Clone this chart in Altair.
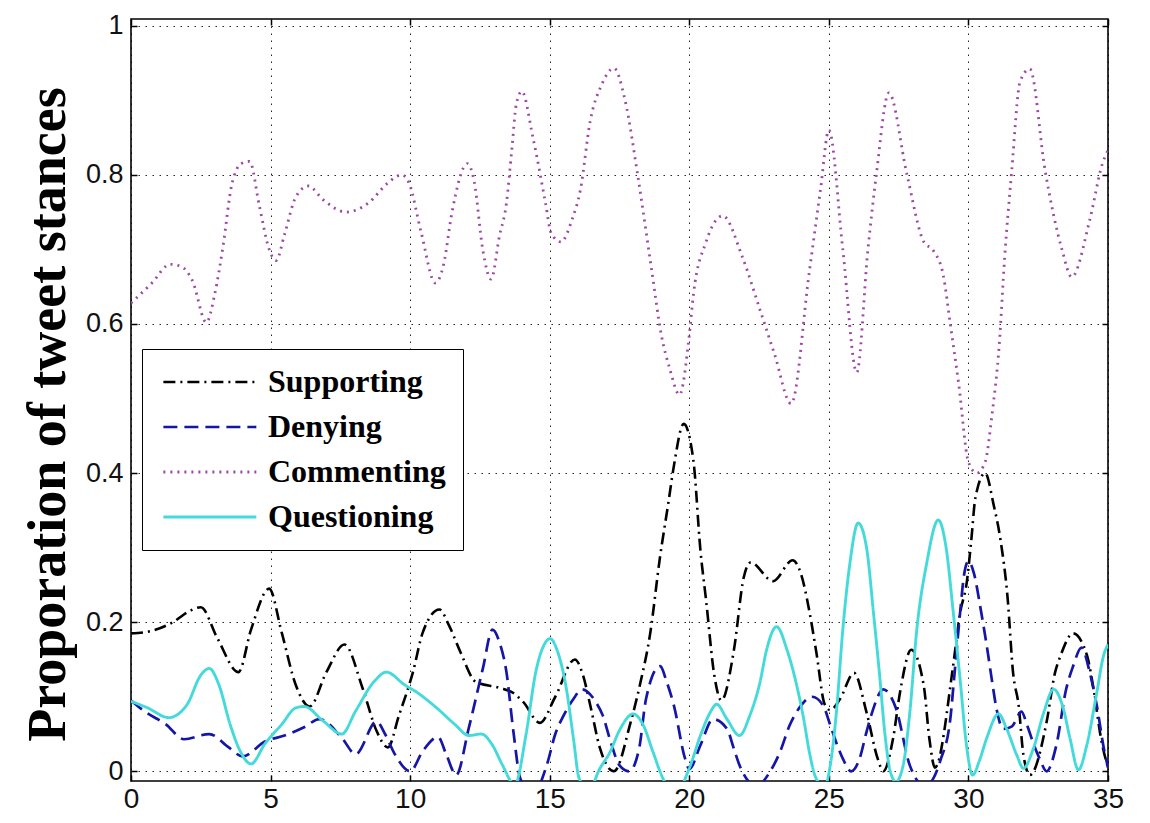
import altair as alt
import pandas as pd

# ---- data ----
stances = ["Supporting", "Denying", "Commenting", "Questioning"]

supporting_x = [0, 0.7, 1.5, 2.1, 2.5, 3.1, 3.85, 4.3, 4.95, 5.4, 5.9, 6.4, 7.0, 7.65, 8.3, 8.8, 9.2,
                9.6, 10.1, 10.45, 11.05, 11.4, 11.8, 12.35, 13.2, 13.7, 14.05, 14.65, 15.2, 15.9, 16.2,
                16.45, 16.8, 17.3, 17.9, 18.25, 18.6, 18.95, 19.25, 19.45, 19.8, 20.15, 20.4, 20.6,
                20.9, 21.15, 21.6, 21.95, 22.2, 23.0, 23.7, 24.0, 24.3, 24.55, 24.85, 25.05, 25.4,
                25.9, 26.35, 26.75, 26.95, 27.3, 27.55, 27.95, 28.4, 28.6, 28.8, 29.45, 29.7, 29.95,
                30.1, 30.25, 30.6, 30.9, 31.15, 31.4, 31.6, 31.8, 31.97, 32.2, 32.8, 33.1, 33.3,
                33.75, 34.25, 34.5, 34.75, 35]
supporting_y = [0.185, 0.188, 0.2, 0.215, 0.22, 0.178, 0.133, 0.19, 0.245, 0.186, 0.116, 0.087, 0.133,
                0.17, 0.111, 0.054, 0.032, 0.075, 0.133, 0.186, 0.217, 0.195, 0.16, 0.12, 0.112, 0.105,
                0.093, 0.065, 0.10, 0.15, 0.128, 0.089, 0.031, 0.0, 0.066, 0.119, 0.185, 0.287, 0.36,
                0.41, 0.466, 0.416, 0.296, 0.23, 0.128, 0.095, 0.163, 0.26, 0.28, 0.255, 0.283, 0.265,
                0.215, 0.16, 0.09, 0.082, 0.097, 0.132, 0.079, 0.017, 0.0, 0.044, 0.106, 0.163, 0.115,
                0.044, 0.005, 0.141, 0.212, 0.256, 0.309, 0.367, 0.40, 0.358, 0.31, 0.234, 0.132,
                0.088, 0.022, -0.005, 0.066, 0.132, 0.155, 0.185, 0.155, 0.106, 0.044, 0.005]

denying_x = [0, 0.5, 1.25, 1.9, 2.8, 3.5, 4.0, 4.8, 5.5, 6.2, 6.75, 7.55, 8.05, 8.8, 9.1, 9.45, 10.0,
             10.45, 11.0, 11.3, 11.65, 12.1, 12.6, 12.95, 13.2, 13.45, 13.7, 13.95, 14.4, 14.9, 15.2,
             15.5, 15.85, 16.15, 16.65, 16.9, 17.15, 17.5, 17.85, 18.2, 18.45, 18.95, 19.2, 19.45,
             19.85, 20.0, 20.4, 20.85, 21.35, 21.6, 21.8, 22.05, 22.4, 22.9, 23.25, 23.6, 24.0, 24.4,
             24.8, 25.05, 25.3, 25.5, 25.8, 26.1, 26.35, 26.55, 26.95, 27.4, 27.9, 28.45, 29.0,
             29.35, 29.5, 29.7, 29.85, 30.0, 30.2, 30.45, 30.65, 30.85, 31.0, 31.25, 31.55, 31.9,
             32.1, 32.35, 32.55, 32.8, 33.15, 33.5, 33.75, 34.05, 34.35, 34.6, 34.85, 35]
denying_y = [0.095, 0.08, 0.063, 0.043, 0.05, 0.032, 0.02, 0.04, 0.048, 0.059, 0.07, 0.045, 0.023,
             0.067, 0.05, 0.023, 0.0, 0.027, 0.046, 0.022, -0.005, 0.058, 0.137, 0.19, 0.173, 0.133,
             0.053, -0.01, -0.03, 0.009, 0.05, 0.075, 0.097, 0.11, 0.093, 0.075, 0.044, 0.008, 0.0,
             0.03, 0.097, 0.141, 0.119, 0.088, 0.017, 0.003, 0.035, 0.07, 0.057, 0.03, 0.008, -0.01,
             -0.02, 0.0, 0.026, 0.062, 0.088, 0.10, 0.088, 0.062, 0.035, 0.017, 0.0, 0.017, 0.053,
             0.079, 0.11, 0.085, 0.008, -0.02, 0.015, 0.07, 0.13, 0.212, 0.265, 0.282, 0.265, 0.215,
             0.17, 0.12, 0.085, 0.057, 0.06, 0.08, 0.062, 0.035, 0.017, 0.0, 0.035, 0.11, 0.141,
             0.166, 0.132, 0.088, 0.031, 0.005]

commenting_x = [0, 0.75, 1.4, 1.8, 2.2, 2.7, 3.0, 3.3, 3.6, 3.95, 4.25, 4.6, 4.95, 5.2, 5.5, 5.9, 6.35,
                6.9, 7.7, 8.5, 9.2, 9.7, 9.95, 10.4, 10.9, 11.2, 11.5, 12.05, 12.3, 12.6, 12.9, 13.2,
                13.45, 13.65, 13.8, 14.0, 14.4, 14.85, 15.05, 15.4, 15.8, 16.1, 16.45, 16.85, 17.3,
                17.7, 18.15, 18.65, 19.0, 19.3, 19.65, 20.0, 20.15, 20.6, 21.2, 21.9, 22.55, 23.05,
                23.65, 24.3, 24.7, 25.0, 25.5, 26.0, 26.4, 26.7, 27.15, 27.8, 28.4, 28.75, 29.1,
                29.35, 29.65, 30.0, 30.3, 30.6, 30.85, 31.1, 31.3, 31.55, 31.85, 32.2, 32.75, 33.35,
                33.7, 34.35, 34.8, 35]
commenting_y = [0.628, 0.655, 0.68, 0.677, 0.658, 0.602, 0.64, 0.705, 0.785, 0.815, 0.818, 0.758, 0.70,
                0.685, 0.72, 0.77, 0.785, 0.766, 0.750, 0.762, 0.789, 0.80, 0.79, 0.722, 0.655, 0.68,
                0.75, 0.815, 0.79, 0.70, 0.66, 0.718, 0.762, 0.837, 0.894, 0.912, 0.85, 0.762, 0.722,
                0.71, 0.74, 0.78, 0.872, 0.92, 0.943, 0.90, 0.80, 0.673, 0.585, 0.54, 0.505, 0.585,
                0.64, 0.71, 0.745, 0.69, 0.617, 0.56, 0.493, 0.67, 0.78, 0.86, 0.70, 0.535, 0.70, 0.80,
                0.91, 0.80, 0.71, 0.698, 0.665, 0.60, 0.52, 0.415, 0.40, 0.415, 0.48, 0.57, 0.69,
                0.805, 0.925, 0.942, 0.805, 0.70, 0.663, 0.74, 0.815, 0.833]

questioning_x = [0, 0.6, 1.35, 2.0, 2.5, 2.8, 3.15, 3.55, 3.9, 4.3, 4.8, 5.4, 5.9, 6.2, 6.9, 7.55, 8.05,
                 8.7, 9.15, 9.8, 10.2, 10.95, 11.6, 12.1, 12.55, 12.95, 13.3, 13.75, 14.15, 14.5,
                 14.85, 15.02, 15.25, 15.6, 15.85, 16.05, 16.4, 16.8, 17.15, 17.5, 17.99, 18.35, 18.7,
                 19.05, 19.5, 20.0, 20.4, 20.75, 20.98, 21.35, 21.8, 22.17, 22.53, 22.77, 23.13, 23.5,
                 23.85, 24.1, 24.3, 24.55, 24.85, 25.05, 25.27, 25.5, 25.75, 26.05, 26.35, 26.6,
                 26.83, 27.0, 27.2, 27.4, 27.66, 27.9, 28.15, 28.5, 28.92, 29.2, 29.46, 29.7, 29.93,
                 30.15, 30.4, 30.65, 31.08, 31.37, 31.73, 31.97, 32.33, 32.7, 33.05, 33.4, 33.64,
                 33.94, 34.24, 34.6, 34.84, 35]
questioning_y = [0.094, 0.085, 0.072, 0.089, 0.129, 0.138, 0.116, 0.063, 0.028, 0.01, 0.037, 0.063,
                 0.085, 0.087, 0.067, 0.05, 0.081, 0.12, 0.133, 0.116, 0.107, 0.085, 0.063, 0.048,
                 0.05, 0.035, 0.009, -0.018, 0.049, 0.133, 0.173, 0.178, 0.164, 0.11, 0.044, -0.009,
                 -0.025, 0.004, 0.025, 0.055, 0.077, 0.062, 0.026, -0.009, -0.03, 0.004, 0.048, 0.079,
                 0.09, 0.07, 0.048, 0.075, 0.119, 0.163, 0.194, 0.163, 0.115, 0.07, 0.026, -0.01,
                 -0.02, 0.008, 0.079, 0.19, 0.278, 0.333, 0.30, 0.212, 0.124, 0.053, 0.0, -0.014,
                 0.008, 0.079, 0.19, 0.278, 0.337, 0.30, 0.212, 0.124, 0.035, -0.005, 0.015, 0.044,
                 0.077, 0.057, 0.022, 0.004, 0.031, 0.079, 0.11, 0.084, 0.044, 0.002, 0.035, 0.106,
                 0.155, 0.17]

x_ticks = [0, 5, 10, 15, 20, 25, 30, 35]
y_ticks = [0, 0.2, 0.4, 0.6, 0.8, 1]

series = {
    "Supporting": (supporting_x, supporting_y),
    "Denying": (denying_x, denying_y),
    "Commenting": (commenting_x, commenting_y),
    "Questioning": (questioning_x, questioning_y),
}
rows = []
for name in stances:
    xs, ys = series[name]
    for a, b in zip(xs, ys):
        rows.append({"day": a, "prop": b, "stance": name})
df = pd.DataFrame(rows)

colors = ["#000000", "#1616a6", "#9c48a4", "#45dada"]
dashes = [[12, 5, 2, 5], [14, 7], [2, 5], [1, 0]]
widths = [2.6, 2.9, 2.0, 3.8]

xscale = alt.Scale(domain=[0, 35], nice=False, zero=False)
yscale = alt.Scale(domain=[-0.013, 1.009], nice=False, zero=False)

tick_common = dict(domain=False, offset=-6, tickSize=6, tickColor="black", tickWidth=1.5)

x_axis = alt.Axis(values=x_ticks, format="~g", title=None, labelFont="Liberation Sans",
                  labelFontSize=28, labelColor="#111", labelPadding=4, labelFlush=False,
                  grid=True, gridColor="black", gridDash=[1.5, 5.5], gridWidth=1, gridOpacity=0.85,
                  **tick_common)
y_axis = alt.Axis(values=y_ticks, format="~g", title="Proporation of tweet stances",
                  titleFont="Liberation Serif", titleFontWeight="bold", titleFontSize=54,
                  titleColor="black", titlePadding=10, titleY=395, labelFont="Liberation Sans",
                  labelFontSize=27, labelColor="#111", labelPadding=8, labelFlush=False,
                  grid=True, gridColor="black", gridDash=[1.5, 5.5], gridWidth=1, gridOpacity=0.85,
                  **tick_common)

legend = alt.Legend(title=None, orient="none", legendX=11, legendY=330,
                    symbolType="M-1,0H7", symbolSize=540,
                    labelFont="Liberation Serif", labelFontWeight="bold", labelFontSize=32,
                    labelColor="black", labelOffset=77, labelLimit=0,
                    strokeColor="black", fillColor="white", padding=17, rowPadding=13)

lines = alt.Chart(df).mark_line(interpolate="monotone", clip=True).encode(
    x=alt.X("day:Q", scale=xscale, axis=x_axis),
    y=alt.Y("prop:Q", scale=yscale, axis=y_axis),
    color=alt.Color("stance:N", scale=alt.Scale(domain=stances, range=colors), legend=legend),
    strokeDash=alt.StrokeDash("stance:N", scale=alt.Scale(domain=stances, range=dashes)),
    strokeWidth=alt.StrokeWidth("stance:N", scale=alt.Scale(domain=stances, range=widths)),
)

frame_axes = alt.Chart(df).mark_line(opacity=0, clip=True).encode(
    x=alt.X("day:Q", scale=xscale,
            axis=alt.Axis(orient="top", values=x_ticks, labels=False, title=None, grid=False,
                          **tick_common)),
    y=alt.Y("prop:Q", scale=yscale,
            axis=alt.Axis(orient="right", values=y_ticks, labels=False, title=None, grid=False,
                          **tick_common)),
)

chart = alt.layer(lines, frame_axes).resolve_axis(x="independent", y="independent").properties(
    width=977, height=762,
    autosize=alt.AutoSizeParams(type="none"),
    padding={"left": 123, "top": 11, "right": 34, "bottom": 34},
    background="white",
).configure_view(stroke="black", strokeWidth=1.6)

chart.save("out.html", embed_options={"renderer": "svg", "actions": False})
